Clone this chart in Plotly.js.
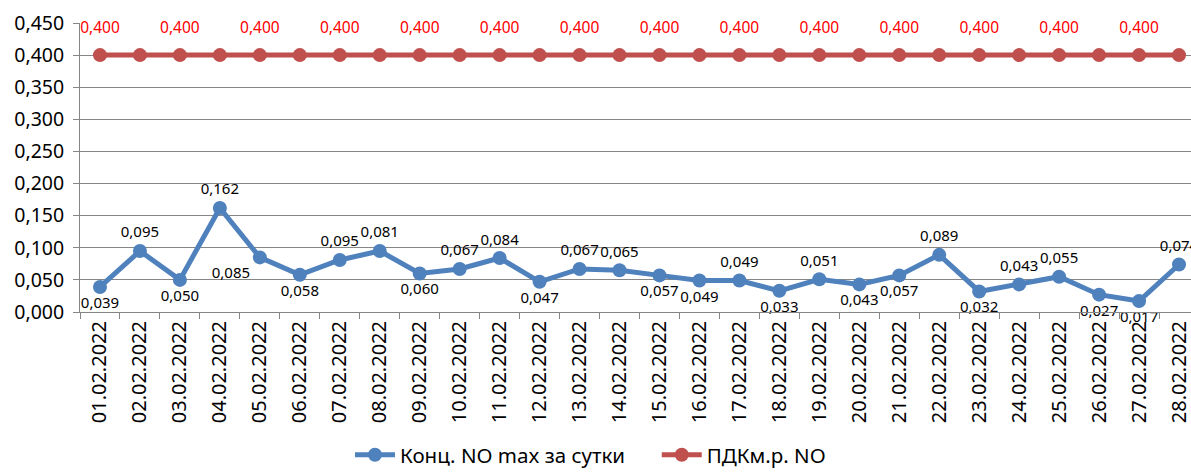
<!DOCTYPE html>
<html><head><meta charset="utf-8">
<script src="https://cdn.plot.ly/plotly-3.0.1.min.js"></script>
<style>html,body{margin:0;padding:0;background:#fff}#chart{width:1191px;height:475px}</style>
</head><body><div id="chart"></div>
<script>
const dates = ['01.02.2022','02.02.2022','03.02.2022','04.02.2022','05.02.2022','06.02.2022','07.02.2022','08.02.2022','09.02.2022','10.02.2022','11.02.2022','12.02.2022','13.02.2022','14.02.2022','15.02.2022','16.02.2022','17.02.2022','18.02.2022','19.02.2022','20.02.2022','21.02.2022','22.02.2022','23.02.2022','24.02.2022','25.02.2022','26.02.2022','27.02.2022','28.02.2022'];
const concNO = [0.039,0.095,0.050,0.162,0.085,0.058,0.081,0.095,0.060,0.067,0.084,0.047,0.067,0.065,0.057,0.049,0.049,0.033,0.051,0.043,0.057,0.089,0.032,0.043,0.055,0.027,0.017,0.074];
const concLabels = ['0,039','0,095','0,050','0,162','0,085','0,058','0,095','0,081','0,060','0,067','0,084','0,047','0,067','0,065','0,057','0,049','0,049','0,033','0,051','0,043','0,057','0,089','0,032','0,043','0,055','0,027','0,017','0,074'];
const pdkNO = [0.400,0.400,0.400,0.400,0.400,0.400,0.400,0.400,0.400,0.400,0.400,0.400,0.400,0.400,0.400,0.400,0.400,0.400,0.400,0.400,0.400,0.400,0.400,0.400,0.400,0.400,0.400,0.400];
const pdkLabels = ['0,400','','0,400','','0,400','','0,400','','0,400','','0,400','','0,400','','0,400','','0,400','','0,400','','0,400','','0,400','','0,400','','0,400',''];
const seriesNames = ['Конц. NO max за сутки','ПДКм.р. NO'];

const B='bottom center', T='top center';
const concPos = [B,T,B,T,'bottom left',B,T,T,B,T,T,B,T,T,B,B,T,B,T,B,B,T,B,T,T,B,B,T];
const FONT = "'Noto Sans', 'DejaVu Sans', sans-serif";
const NB = '\u00A0\u00A0\u00A0\u00A0\u00A0';

const traces = [
  {x: dates, y: concNO, name: seriesNames[0] + NB, type: 'scatter', mode: 'lines+markers+text',
   text: concLabels, textposition: concPos, cliponaxis: false,
   textfont: {family: FONT, size: 15, color: '#000'},
   line: {color: '#4F81BD', width: 5}, marker: {color: '#4F81BD', size: 14}, hoverinfo: 'skip'},
  {x: dates, y: pdkNO, name: seriesNames[1], type: 'scatter', mode: 'lines+markers',
   cliponaxis: false,
   line: {color: '#C0504D', width: 5}, marker: {color: '#C0504D', size: 14}, hoverinfo: 'skip'},
  {x: dates, y: pdkNO, name: seriesNames[1] + ' labels', type: 'scatter', mode: 'markers+text',
   text: pdkLabels, textposition: 'top center', cliponaxis: false, showlegend: false,
   textfont: {family: FONT, size: 15.5, color: '#FF0000'},
   marker: {color: 'rgba(0,0,0,0)', size: 27}, hoverinfo: 'skip'}
];

const layout = {
  width: 1191, height: 475,
  margin: {l: 80, r: 0, t: 23, b: 163, autoexpand: false},
  paper_bgcolor: '#fff', plot_bgcolor: '#fff',
  separators: ', ',
  font: {family: FONT, color: '#000'},
  showlegend: true,
  legend: {orientation: 'h', x: 0.243, xanchor: 'left', y: -0.5635, yanchor: 'bottom',
           font: {family: FONT, size: 20.5, color: '#000'}, itemwidth: 40, tracegroupgap: 0},
  xaxis: {type: 'category', range: [-0.5, 27.3], tickson: 'boundaries', ticks: 'outside', ticklen: 6,
          tickcolor: '#868686', showline: true, linecolor: '#868686', linewidth: 1, showgrid: false,
          tickangle: -90, tickfont: {family: FONT, size: 20, color: '#000'}, zeroline: false,
          automargin: false, fixedrange: true},
  yaxis: {range: [0, 0.45], dtick: 0.05, tick0: 0, tickformat: '.3f', ticks: 'outside', ticklen: 6,
          tickcolor: '#868686', showline: true, linecolor: '#868686', linewidth: 1,
          gridcolor: '#868686', gridwidth: 1, zeroline: false, ticklabelstandoff: 5,
          tickfont: {family: FONT, size: 19.5, color: '#000'}, automargin: false, fixedrange: true}
};

Plotly.newPlot('chart', traces, layout, {displayModeBar: false, staticPlot: true});
</script>
</body></html>
